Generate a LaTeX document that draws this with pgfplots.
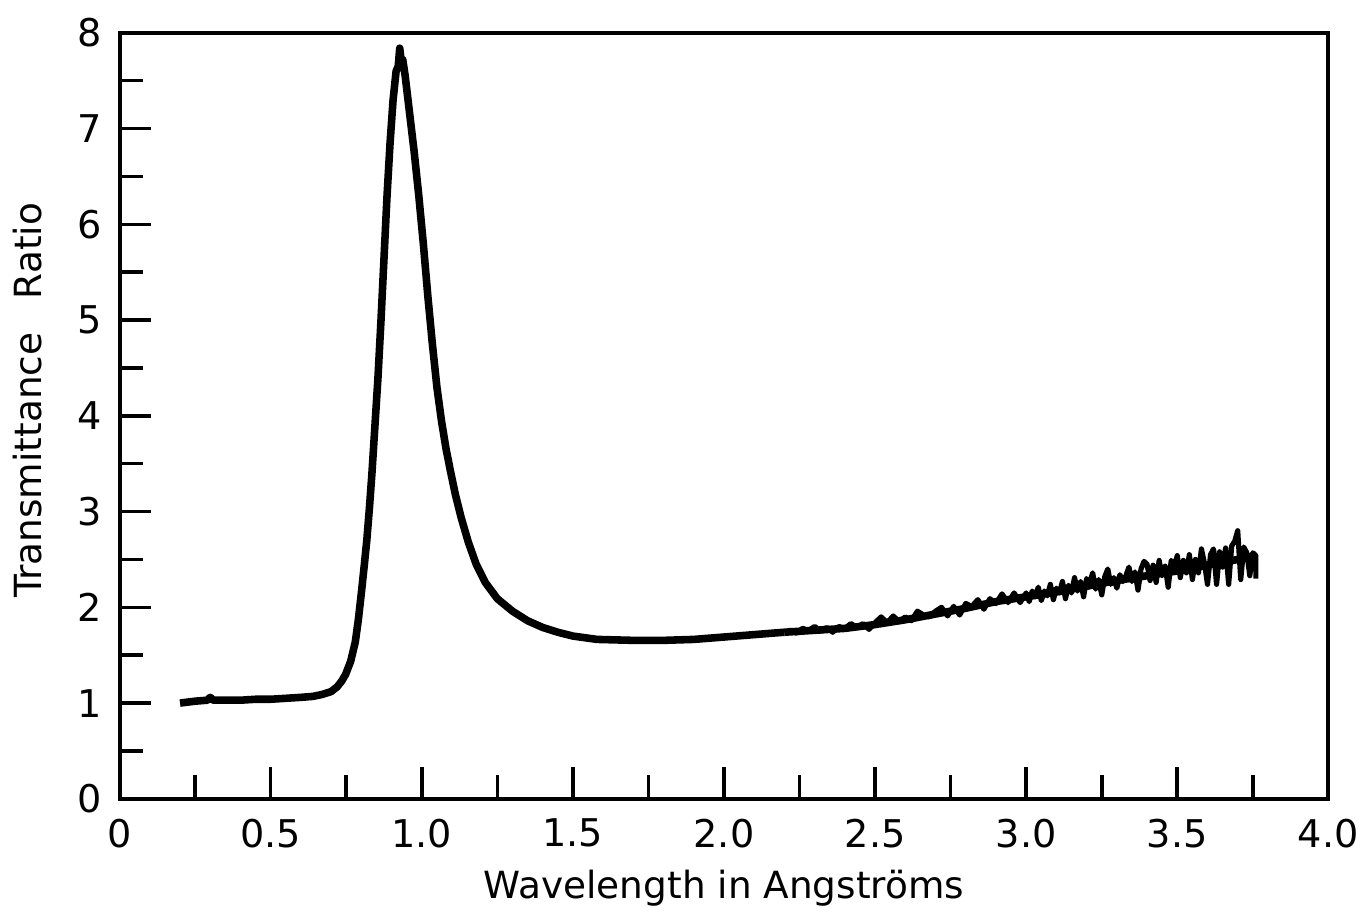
\documentclass[border=0pt]{standalone}
\usepackage{fontspec}
\setmainfont{DejaVu Sans}
\usepackage{pgfplots}
\pgfplotsset{compat=1.18}

\begin{document}
\begin{tikzpicture}
\begin{axis}[
    scale only axis,
    width=303.75pt, height=192.5pt,
    xmin=0, xmax=4, ymin=0, ymax=8,
    axis line style={line width=1pt},
    tick align=inside,
    xtick pos=bottom, ytick pos=left,
    xtick={0,0.5,1,1.5,2,2.5,3,3.5,4},
    xticklabels={0,0.5,1.0,1.5,2.0,2.5,3.0,3.5,4.0},
    minor xtick={0.25,0.75,1.25,1.75,2.25,2.75,3.25,3.75},
    ytick={0,1,2,3,4,5,6,7,8},
    minor ytick={0.5,1.5,2.5,3.5,4.5,5.5,6.5,7.5},
    major tick length=8pt,
    minor tick length=6pt,
    every tick/.style={black, line width=0.9pt},
    /pgf/number format/assume math mode=true,
    tick label style={font=\fontsize{9.6}{11}\selectfont},
    xticklabel style={yshift=-1.5pt},
    yticklabel style={xshift=-1pt},
    label style={font=\fontsize{9.4}{11}\selectfont},
    xlabel={Wavelength in Angströms},
    ylabel={Transmittance\hspace{0.9em}Ratio},
    xlabel style={at={(axis description cs:0.5,-0.117)}, anchor=center},
    ylabel style={at={(axis description cs:-0.076,0.52)}, anchor=center},
]

% main trace: flat part, resonance peak, broad minimum
\addplot[black, line width=1.9pt, line join=round] coordinates {
(0.20,1.00) (0.25,1.02) (0.29,1.03) (0.30,1.06) (0.31,1.03) (0.35,1.03)
(0.40,1.03) (0.45,1.04) (0.50,1.04) (0.55,1.05) (0.60,1.06) (0.64,1.07)
(0.67,1.09) (0.70,1.12) (0.72,1.17) (0.735,1.23) (0.748,1.30) (0.765,1.44)
(0.78,1.64) (0.79,1.87) (0.80,2.15) (0.81,2.45) (0.818,2.70) (0.827,3.05)
(0.835,3.40) (0.845,3.90) (0.855,4.40) (0.865,5.00) (0.875,5.65) (0.885,6.30)
(0.895,6.85) (0.905,7.30) (0.915,7.60) (0.922,7.65) (0.927,7.84) (0.932,7.70)
(0.937,7.72) (0.945,7.55) (0.96,7.15) (0.975,6.75) (0.99,6.30) (1.005,5.80)
(1.02,5.25) (1.035,4.75) (1.05,4.30) (1.065,3.95) (1.08,3.66) (1.095,3.42)
(1.111,3.18) (1.13,2.94) (1.154,2.68) (1.18,2.45) (1.21,2.26) (1.25,2.09)
(1.30,1.96) (1.35,1.86) (1.40,1.79) (1.45,1.74) (1.50,1.70) (1.58,1.665)
(1.70,1.655) (1.80,1.655) (1.90,1.665) (2.00,1.69) (2.08,1.71) (2.14,1.725)
(2.20,1.74)
};

% long-wavelength tail: mean level
\addplot[black, line width=1.9pt, line join=round] coordinates {
(2.20,1.74) (2.30,1.76) (2.40,1.78) (2.50,1.82) (2.60,1.87) (2.70,1.93)
(2.80,1.99) (2.90,2.06) (3.00,2.11) (3.10,2.16) (3.20,2.22) (3.30,2.28)
(3.40,2.33) (3.50,2.38) (3.60,2.44) (3.70,2.50) (3.76,2.54)
};

% long-wavelength tail: noisy trace
\addplot[black, line width=1.3pt, line join=round] coordinates {
(2.20,1.74) (2.22,1.76) (2.24,1.73) (2.26,1.78) (2.28,1.76) (2.30,1.80)
(2.32,1.75) (2.34,1.79) (2.36,1.74) (2.38,1.80) (2.40,1.78) (2.42,1.83)
(2.44,1.79) (2.46,1.83) (2.48,1.77) (2.50,1.84) (2.52,1.90) (2.54,1.84)
(2.56,1.91) (2.58,1.85) (2.60,1.90) (2.62,1.86) (2.64,1.96) (2.66,1.92)
(2.68,1.90) (2.70,1.96) (2.72,2.00) (2.74,1.91) (2.76,2.01) (2.78,1.92)
(2.80,2.04) (2.82,2.01) (2.84,2.08) (2.86,1.98) (2.88,2.09) (2.90,2.04)
(2.92,2.14) (2.94,2.05) (2.96,2.15) (2.98,2.05) (3.00,2.15) (3.01,2.06)
(3.02,2.17) (3.03,2.11) (3.04,2.21) (3.05,2.07) (3.06,2.17) (3.07,2.12)
(3.08,2.24) (3.09,2.08) (3.10,2.20) (3.11,2.15) (3.12,2.27) (3.13,2.09)
(3.14,2.23) (3.15,2.15) (3.16,2.31) (3.17,2.17) (3.18,2.27) (3.19,2.11)
(3.20,2.30) (3.21,2.25) (3.22,2.36) (3.23,2.19) (3.24,2.29) (3.25,2.13)
(3.26,2.32) (3.27,2.40) (3.28,2.24) (3.29,2.31) (3.30,2.20) (3.31,2.34)
(3.32,2.27) (3.33,2.33) (3.34,2.42) (3.35,2.27) (3.36,2.37) (3.37,2.18)
(3.38,2.40) (3.39,2.48) (3.40,2.45) (3.41,2.28) (3.42,2.44) (3.43,2.26)
(3.44,2.49) (3.45,2.33) (3.46,2.43) (3.47,2.21) (3.48,2.49) (3.49,2.43)
(3.50,2.54) (3.51,2.31) (3.52,2.49) (3.53,2.36) (3.54,2.55) (3.55,2.29)
(3.56,2.50) (3.57,2.36) (3.58,2.61) (3.59,2.46) (3.60,2.24) (3.61,2.55)
(3.62,2.61) (3.63,2.24) (3.64,2.58) (3.65,2.42) (3.66,2.62) (3.67,2.24)
(3.68,2.64) (3.69,2.69) (3.70,2.80) (3.71,2.29) (3.72,2.63) (3.73,2.57)
(3.74,2.33) (3.75,2.57) (3.76,2.54) (3.76,2.30)
};

\end{axis}
\path ([shift={(-30pt,-26.5pt)}]current axis.south west)
    rectangle ([shift={(9.25pt,8.25pt)}]current axis.north east);
\end{tikzpicture}
\end{document}
